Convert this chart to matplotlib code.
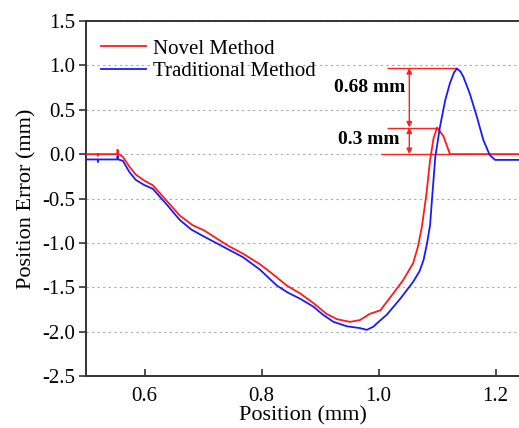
import matplotlib
matplotlib.use("Agg")
import matplotlib.pyplot as plt

plt.rcParams['font.family'] = ['Liberation Serif', 'DejaVu Serif']
plt.rcParams['axes.unicode_minus'] = False

novel_x = [0.50, 0.520, 0.5205, 0.521, 0.54, 0.553, 0.554, 0.555, 0.563, 0.574, 0.585, 0.600, 0.614,
           0.637, 0.660, 0.682, 0.702, 0.728, 0.745, 0.768, 0.797, 0.815, 0.843, 0.866, 0.889,
           0.911, 0.929, 0.951, 0.968, 0.985, 1.003, 1.025, 1.042, 1.059, 1.067, 1.074, 1.082,
           1.088, 1.094, 1.100, 1.111, 1.122, 1.24]
novel_y = [0.00, 0.00, -0.02, 0.00, 0.00, 0.00, 0.05, 0.00, -0.03, -0.14, -0.23, -0.30, -0.35,
           -0.52, -0.69, -0.80, -0.86, -0.97, -1.04, -1.12, -1.24, -1.33, -1.48, -1.57, -1.68,
           -1.80, -1.86, -1.89, -1.87, -1.80, -1.76, -1.57, -1.42, -1.23, -1.05, -0.82, -0.44,
           -0.07, 0.18, 0.30, 0.20, 0.00, 0.00]

trad_x = [0.50, 0.520, 0.5205, 0.521, 0.54, 0.553, 0.554, 0.555, 0.563, 0.574, 0.585, 0.600, 0.614,
          0.637, 0.660, 0.680, 0.702, 0.725, 0.745, 0.768, 0.797, 0.826, 0.845, 0.866, 0.889,
          0.905, 0.923, 0.946, 0.968, 0.980, 0.991, 1.000, 1.014, 1.037, 1.059, 1.070, 1.077,
          1.083, 1.088, 1.092, 1.097, 1.105, 1.114, 1.122, 1.129, 1.134, 1.140, 1.145, 1.156,
          1.168, 1.179, 1.190, 1.199, 1.24]
trad_y = [-0.06, -0.06, -0.09, -0.06, -0.06, -0.06, -0.02, -0.06, -0.075, -0.20, -0.29, -0.35, -0.39,
          -0.56, -0.74, -0.85, -0.93, -1.01, -1.08, -1.16, -1.30, -1.48, -1.56, -1.63, -1.72,
          -1.81, -1.89, -1.94, -1.96, -1.98, -1.945, -1.89, -1.81, -1.63, -1.44, -1.32, -1.19,
          -1.00, -0.80, -0.45, -0.03, 0.31, 0.61, 0.80, 0.92, 0.965, 0.93, 0.87, 0.68,
          0.42, 0.16, -0.01, -0.065, -0.065]

yticks = [-2.5, -2.0, -1.5, -1.0, -0.5, 0.0, 0.5, 1.0, 1.5]
xticks = [0.6, 0.8, 1.0, 1.2]

peak_trad = 0.97
peak_novel = 0.30
label_big = "0.68 mm"
label_small = "0.3 mm"

fig = plt.figure(figsize=(5.19, 4.28), dpi=100)
ax = fig.add_axes([86/519, 52/428, 1 - 86/519, (376-21)/428])

ax.plot(novel_x, novel_y, color='#ff1a1a', lw=1.3, label='Novel Method', zorder=3)
ax.plot(trad_x, trad_y, color='#1a1aff', lw=1.3, label='Traditional Method', zorder=3)

ax.set_xlim(0.5, 1.24)
ax.set_ylim(-2.5, 1.5)
ax.set_yticks(yticks)
ax.set_yticklabels([f"{v:.1f}" for v in yticks])
ax.set_xticks(xticks)
ax.set_xticklabels([f"{v:.1f}" for v in xticks])
ax.yaxis.grid(True, linestyle=(0, (2, 3)), color='#aaaaaa', lw=0.8)
ax.set_axisbelow(True)

for s in ['left', 'bottom', 'top']:
    ax.spines[s].set_linewidth(1.4)
    ax.spines[s].set_color('#333333')
ax.spines['right'].set_visible(False)
ax.tick_params(axis='x', direction='in', length=5, width=1.2, labelsize=15, pad=8, color='#333333')
ax.tick_params(axis='y', direction='out', length=5, width=1.2, labelsize=15, pad=3, color='#333333')

ax.set_xlabel('Position (mm)', fontsize=16, labelpad=0)
ax.set_ylabel('Position Error (mm)', fontsize=16, labelpad=4)

leg = ax.legend(loc='upper left', frameon=False, fontsize=15, handlelength=2.2,
                handletextpad=0.3, labelspacing=0.15, borderaxespad=0.3,
                bbox_to_anchor=(0.0, 0.99))

# annotations
ann_col = '#ff2020'
ax.hlines(peak_trad, 1.014, 1.134, color=ann_col, lw=1.0)
ax.hlines(peak_novel, 1.014, 1.100, color=ann_col, lw=1.0)
ax.hlines(0.0, 1.005, 1.122, color=ann_col, lw=1.0)
ax.annotate('', xy=(1.0525, peak_trad), xytext=(1.0525, peak_novel),
            arrowprops=dict(arrowstyle='<|-|>', color=ann_col, lw=1.0, mutation_scale=8,
                            shrinkA=0, shrinkB=0))
ax.annotate('', xy=(1.0525, peak_novel), xytext=(1.0525, 0.0),
            arrowprops=dict(arrowstyle='<|-|>', color=ann_col, lw=1.0, mutation_scale=8,
                            shrinkA=0, shrinkB=0))
ax.text(1.045, 0.75, label_big, ha='right', va='center', fontsize=14, fontweight='bold')
ax.text(1.035, 0.16, label_small, ha='right', va='center', fontsize=14, fontweight='bold')

fig.savefig('out.png', dpi=100)
